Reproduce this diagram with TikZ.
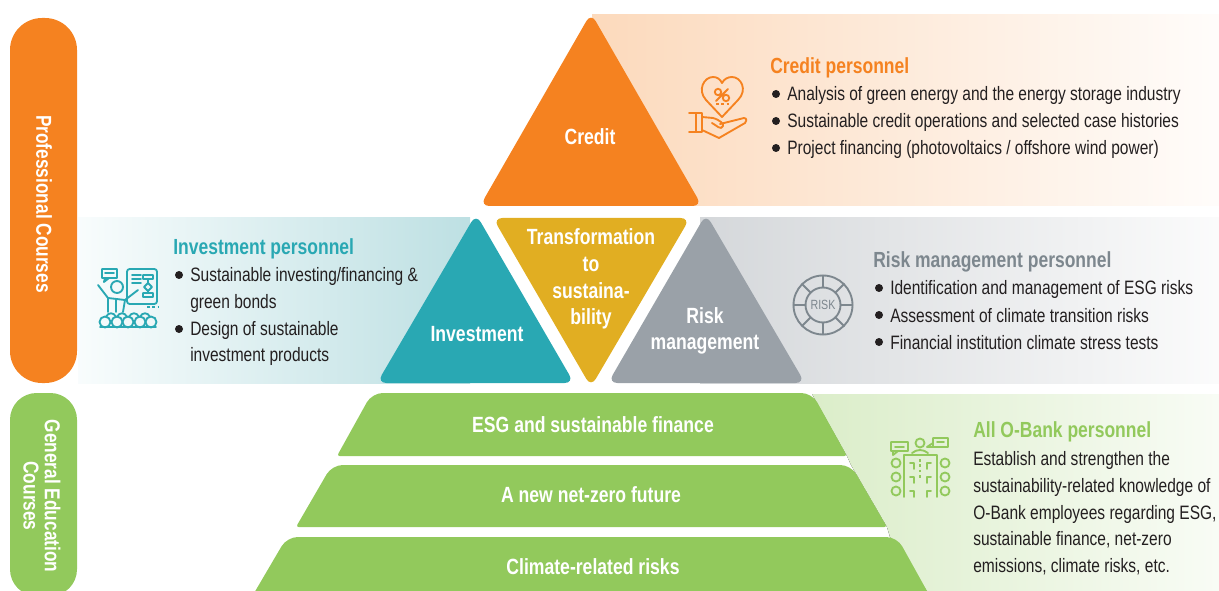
\documentclass[tikz,border=0pt]{standalone}
\usepackage{fontspec}
\setmainfont[FakeStretch=0.8]{Liberation Sans}
\definecolor{orangemain}{HTML}{F58220}
\definecolor{greenmain}{HTML}{92C95C}
\definecolor{tealmain}{HTML}{29A8B3}
\definecolor{goldmain}{HTML}{E1AE22}
\definecolor{greymain}{HTML}{9AA1A8}
\definecolor{greyicon}{HTML}{7D878E}
\definecolor{inkdark}{HTML}{231F20}
\tikzset{
  x=0.75pt, y=-0.75pt,
  bodytext/.style={anchor=west, inner sep=0pt, text=inkdark, font=\fontsize{14.55}{16}\selectfont},
  headtext/.style={anchor=west, inner sep=0pt, font=\fontsize{16.4}{18}\selectfont\bfseries},
  blocktext/.style={align=center, inner sep=0pt, text=white, font=\fontsize{16.5}{20}\selectfont\bfseries},
  sidetext/.style={align=center, inner sep=0pt, text=white, rotate=-90, font=\fontsize{16.2}{16}\selectfont\bfseries},
  iconline/.style={line width=1.4pt, line join=round, line cap=round},
}
\begin{document}
\begin{tikzpicture}
\useasboundingbox (0,0) rectangle (1219,591);
\clip (0,0) rectangle (1219,591);
% Bands
\fill[left color=orangemain!30!white, middle color=orangemain!20!white, right color=orangemain!2!white] (592,15) rectangle (1219,206);
\fill[left color=tealmain!3!white, right color=tealmain!28!white!97!black] (78,218) rectangle (470,383);
\fill[left color=greymain!42!white, right color=greymain!4!white] (700,218) rectangle (1219,383);
\fill[left color=greenmain!33!white, right color=greenmain!6!white] (812,394) -- (1219,394) -- (1219,591) -- (927,591) -- (890,537) -- (887,527) -- (851,465) -- (847,456) -- cycle;
% Side pills
\fill[orangemain, rounded corners=24pt] (10,18) rectangle (77,383);
\fill[greenmain, rounded corners=20pt] (10,393) rectangle (77,596);
\node[sidetext] (professional) at (44,204) {Professional Courses};
\node[sidetext] (general) at (42,496) {General Education\\Courses};
% Triangles
\fill[orangemain, rounded corners=7pt] (591,13) -- (702,206) -- (480,206) -- cycle;
\fill[tealmain, rounded corners=7pt] (476,214) -- (574,383) -- (377,383) -- cycle;
\fill[goldmain, rounded corners=7pt] (493,218) -- (690,218) -- (591,387) -- cycle;
\fill[greymain, rounded corners=7pt] (706,214) -- (805,383) -- (608,383) -- cycle;
\node[blocktext] (credit) at (590,137) {Credit};
\node[blocktext] (investment) at (477,334) {Investment};
\node[blocktext, text width=130] (transformation) at (591,279) {Transformation\\to\\sustaina-\\bility};
\node[blocktext] (risk) at (705,331) {Risk\\management};
% Trapezoids
\fill[greenmain] (590,456) [rounded corners=2pt] -- (337,456) [rounded corners=8pt] -- (372,393) -- (812,393) [rounded corners=2pt] -- (847,456) -- cycle;
\fill[greenmain] (590,527) [rounded corners=2pt] -- (296,527) [rounded corners=8pt] -- (332,465) -- (851,465) [rounded corners=2pt] -- (887,527) -- cycle;
\fill[greenmain] (250,600) [rounded corners=8pt] -- (287,537) -- (897,537) [sharp corners] -- (932,600) -- cycle;
\node[blocktext] (esg) at (593,425) {ESG and sustainable finance};
\node[blocktext] (netzero) at (591,495) {A new net-zero future};
\node[blocktext] (climate) at (593,567) {Climate-related risks};
% Credit text
\node[headtext, text=orangemain] (credithead) at (770,68) {Credit personnel};
\foreach \y in {94,121,148} \fill[inkdark] (776,\y) circle (4);
\node[bodytext] (crediti) at (787,95) {Analysis of green energy and the energy storage industry};
\node[bodytext] (creditii) at (787,122) {Sustainable credit operations and selected case histories};
\node[bodytext] (creditiii) at (787,149) {Project financing (photovoltaics / offshore wind power)};
% Investment text
\node[headtext, text=tealmain] (investhead) at (173,249) {Investment personnel};
\foreach \y in {275,329} \fill[inkdark] (179,\y) circle (4);
\node[bodytext] (investi) at (190,276) {Sustainable investing/financing \&};
\node[bodytext] (investii) at (190,303) {green bonds};
\node[bodytext] (investiii) at (190,330) {Design of sustainable};
\node[bodytext] (investiv) at (190,356) {investment products};
% Risk text
\node[headtext, text=greyicon] (riskhead) at (873,262) {Risk management personnel};
\foreach \y in {288,315,342} \fill[inkdark] (879,\y) circle (4);
\node[bodytext] (riski) at (890,289) {Identification and management of ESG risks};
\node[bodytext] (riskii) at (890,316) {Assessment of climate transition risks};
\node[bodytext] (riskiii) at (890,343) {Financial institution climate stress tests};
% All staff text
\node[headtext, text=greenmain] (allhead) at (973,432) {All O-Bank personnel};
\node[bodytext] (alli) at (973,460) {Establish and strengthen the};
\node[bodytext] (allii) at (973,487) {sustainability-related knowledge of};
\node[bodytext] (alliii) at (973,514) {O-Bank employees regarding ESG,};
\node[bodytext] (alliv) at (973,540) {sustainable finance, net-zero};
\node[bodytext] (allv) at (973,567) {emissions, climate risks, etc.};
% Heart icon
\begin{scope}[iconline, draw=orangemain]
\draw (722,117) -- (706,100) .. controls (697,90) and (704,77) .. (713,77) .. controls (717,77) and (720,79) .. (722,83) .. controls (724,79) and (728,77) .. (732,77) .. controls (741,77) and (748,90) .. (738,100) -- cycle;
\draw (718,92) circle (3.2) (726,98) circle (3.2) (728,89) -- (716,101);
\draw[dotted, line cap=butt, line width=2pt] (716,104) -- (729,104);
\draw (689,113) -- (702,113) -- (702,132) -- (689,132) (696,113) -- (696,132);
\draw (702,117) -- (713,118) .. controls (720,120) and (724,124) .. (723,126) .. controls (721,131) and (716,125) .. (712,123);
\draw (720,124) -- (744,118) .. controls (747,118) and (747,122) .. (745,123) -- (719,138) -- (702,130);
\end{scope}
% Presenter icon
\begin{scope}[iconline, draw=tealmain]
\draw (102,269) rectangle (117,278) (105,278) -- (104,282) -- (109,278);
\draw (105,273) -- (114,273);
\draw (117,287) circle (6);
\draw[rounded corners=2pt] (127,269) rectangle (157,304);
\draw (98,285) -- (108,298) -- (108,312) (138,290) -- (125,300) -- (123,312) (108,298) -- (125,300);
\draw (116,300) -- (116,312);
\draw (132,275) -- (141,275) (132,279) -- (141,279) (132,283) -- (141,283);
\draw (143,275) rectangle (153,279) (148,279) -- (148,283) -- (152,287) -- (148,291) -- (144,287) -- (148,283) (148,291) -- (148,293) (143,293) rectangle (153,297);
\draw[dotted, line cap=butt, line width=2pt] (147,307) -- (158,307);
\foreach \x in {105,117,128,140,151} \draw (\x,322) circle (5.5);
\foreach \x in {111,122,134,145} \draw (\x-5,317) .. controls (\x-3,312) and (\x+3,312) .. (\x+5,317);
\draw (100,327) -- (156,327);
\end{scope}
% Risk icon
\begin{scope}[iconline, draw=greyicon]
\draw (823,305) circle (29.5) (823,305) circle (17.5);
\foreach \a in {0,45,...,315} \draw (823,305) ++(\a:17.5) -- ++(\a:12);
\end{scope}
\node[inner sep=0pt, text=greyicon, font=\fontsize{10}{11}\selectfont] (riskicon) at (823,305) {RISK};
% Staff icon
\begin{scope}[iconline, draw=greenmain]
\draw (891,442) rectangle (908,451) (893,451) -- (893,455) -- (898,451) (895,447) -- (904,447);
\draw (920,443) circle (4.5);
\draw (933,438) rectangle (948,447) (933,447) -- (927,447) -- (933,443) (937,442) -- (944,442);
\draw (904,497) -- (904,455) -- (937,455) -- (937,497);
\draw (912,453) .. controls (917,449) and (923,449) .. (928,453);
\foreach \y in {463,477,491} \draw (896,\y) circle (4.5) (945,\y) circle (4.5);
\foreach \y in {463,477,491} \draw (910,\y) -- (914,\y) -- (914,\y+6) (931,\y) -- (927,\y) -- (927,\y+6);
\draw[dotted, line cap=butt, line width=2pt] (920,459) -- (920,480);
\end{scope}
\end{tikzpicture}
\end{document}
